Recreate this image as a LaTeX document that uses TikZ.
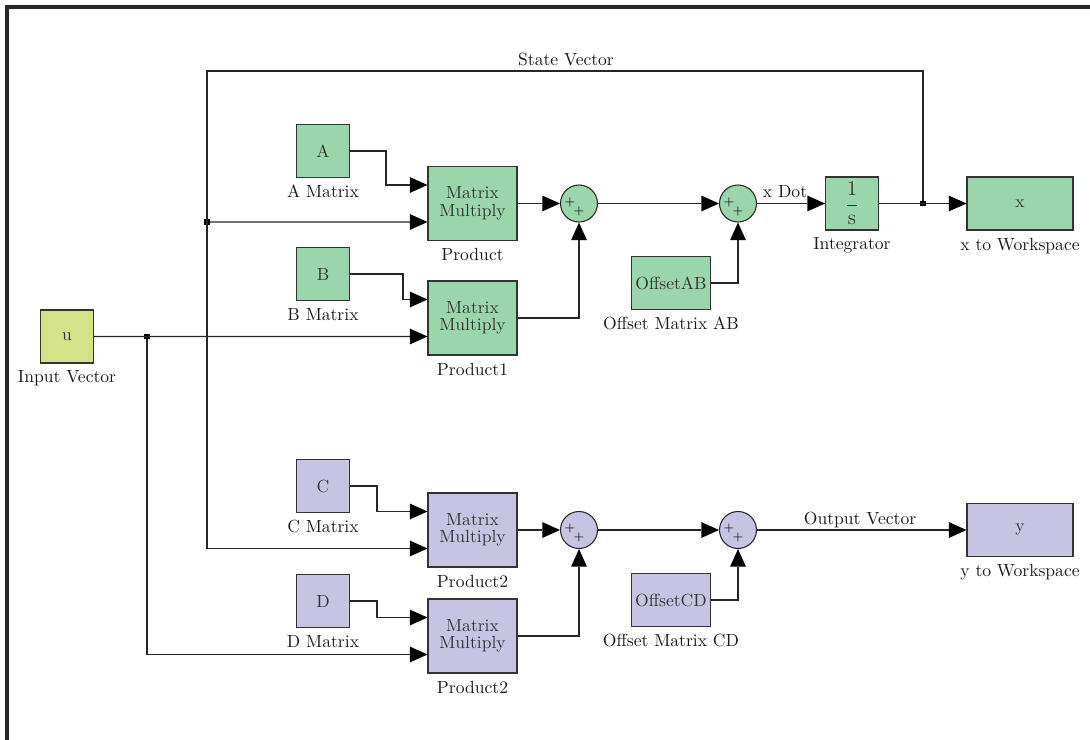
\documentclass[tikz,border=0pt]{standalone}
\usetikzlibrary{positioning,arrows.meta}

\definecolor{simgreen}{RGB}{155,213,172}
\definecolor{simblue}{RGB}{198,196,226}
\definecolor{simyellow}{RGB}{212,226,138}

\tikzset{
    block/.style={draw=black!80, line width=0.6pt, text=black!80, minimum width=1.06cm, minimum height=1.06cm, inner sep=1pt},
    mult/.style={block, minimum width=1.78cm, minimum height=1.48cm, align=center},
    wide/.style={block, minimum width=1.58cm},
    sink/.style={block, minimum width=2.12cm},
    sumnode/.style={circle, draw=black!85, line width=0.6pt, minimum size=0.74cm, inner sep=0pt},
    plus/.style={font=\scriptsize, inner sep=0pt},
    lbl/.style={text=black!90, inner sep=1pt},
    wire/.style={line width=0.6pt, black!85},
    sig/.style={wire, -{Triangle[length=10pt,width=9pt,fill=black,line width=0pt]}},
    dot/.style={fill=black, minimum size=3pt, inner sep=0pt}
}

\begin{document}
\begin{tikzpicture}
    \begin{scope}[x=0.02cm, y=-0.02cm]
        \useasboundingbox (0,0) rectangle (1090,740);

        % Frame
        \draw[line width=2pt, black!85] (7,741) -- (7,7) -- (1091,7);

        % --- Input ---
        \node[block, fill=simyellow] (u) at (67,336.5) {u};
        \node[lbl, below=3pt of u] (ulab) {Input Vector};

        % --- Upper half: state derivative ---
        \node[block, fill=simgreen] (A) at (323,151) {A};
        \node[lbl, below=3pt of A] (Alab) {A Matrix};
        \node[block, fill=simgreen] (B) at (323,274) {B};
        \node[lbl, below=3pt of B] (Blab) {B Matrix};

        \node[mult, fill=simgreen] (P) at (472.5,203.5) {Matrix\\[-2pt]Multiply};
        \node[lbl, below=3pt of P] (Plab) {Product};
        \node[mult, fill=simgreen] (P1) at (472.5,318) {Matrix\\[-2pt]Multiply};
        \node[lbl, below=3pt of P1] (P1lab) {Product1};

        \node[sumnode, fill=simgreen] (s1) at (579,203.5) {};
        \node[sumnode, fill=simgreen] (s2) at (738,203.5) {};

        \node[wide, fill=simgreen] (oab) at (671,283) {OffsetAB};
        \node[lbl, below=3pt of oab] (oablab) {Offset Matrix AB};

        \node[block, fill=simgreen, font=\large] (int) at (852,203.5) {$\displaystyle\frac{1}{\mathrm{s}}$};
        \node[lbl, below=3pt of int] (intlab) {Integrator};

        \node[sink, fill=simgreen] (xws) at (1020,203.5) {x};
        \node[lbl, below=3pt of xws] (xwslab) {x to Workspace};

        % --- Lower half: output ---
        \node[block, fill=simblue] (C) at (323,486) {C};
        \node[lbl, below=3pt of C] (Clab) {C Matrix};
        \node[block, fill=simblue] (D) at (323,601) {D};
        \node[lbl, below=3pt of D] (Dlab) {D Matrix};

        \node[mult, fill=simblue] (P2) at (472.5,530) {Matrix\\[-2pt]Multiply};
        \node[lbl, below=3pt of P2] (P2lab) {Product2};
        \node[mult, fill=simblue] (P3) at (472.5,636) {Matrix\\[-2pt]Multiply};
        \node[lbl, below=3pt of P3] (P3lab) {Product2};

        \node[sumnode, fill=simblue] (s3) at (579,530) {};
        \node[sumnode, fill=simblue] (s4) at (738,530) {};

        \node[wide, fill=simblue] (ocd) at (671,600) {OffsetCD};
        \node[lbl, below=3pt of ocd] (ocdlab) {Offset Matrix CD};

        \node[sink, fill=simblue] (yws) at (1020,530) {y};
        \node[lbl, below=3pt of yws] (ywslab) {y to Workspace};

        % Sum signs
        \foreach \s in {s1,s2,s3,s4} {
            \node[plus] (\s-pa) at ([shift={(-0.18cm,0.03cm)}]\s.center) {+};
            \node[plus] (\s-pb) at ([shift={(0cm,-0.15cm)}]\s.center) {+};
        }

        % Product input ports
        \foreach \p in {P,P1,P2,P3} {
            \coordinate (\p-a) at ([yshift=0.37cm]\p.west);
            \coordinate (\p-b) at ([yshift=-0.37cm]\p.west);
        }

        % Junctions
        \node[dot] (j1) at (147,336.5) {};
        \node[dot] (j2) at (207,222) {};
        \node[dot] (j3) at (923,203.5) {};
        \coordinate (tl) at (207,71);

        % --- Connectors, upper half ---
        \draw[sig] (A.east) -- ++(36,0) |- (P-a);
        \draw[sig] (j2) -- (P-b);
        \draw[sig] (B.east) -- ++(53,0) |- (P1-a);
        \draw[sig] (u.east) -- (P1-b);
        \draw[sig] (P.east) -- (s1.west);
        \draw[sig] (P1.east) -| (s1.south);
        \draw[sig] (s1.east) -- (s2.west);
        \draw[sig] (oab.east) -| (s2.south);
        \draw[sig] (s2.east) -- (int.west);
        \draw[sig] (int.east) -- (xws.west);

        % State feedback
        \draw[sig] (j3.north) |- (tl) |- (P2-b);
        \node[lbl] (svlab) at (566,60) {State Vector};
        \node[lbl] (xdlab) at (785,192) {x Dot};

        % --- Connectors, lower half ---
        \draw[sig] (C.east) -- ++(27,0) |- (P2-a);
        \draw[sig] (D.east) -- ++(27,0) |- (P3-a);
        \draw[sig] (j1) |- (P3-b);
        \draw[sig] (P2.east) -- (s3.west);
        \draw[sig] (P3.east) -| (s3.south);
        \draw[sig] (s3.east) -- (s4.west);
        \draw[sig] (ocd.east) -| (s4.south);
        \draw[sig] (s4.east) -- (yws.west);
        \node[lbl] (ovlab) at (860,520) {Output Vector};

    \end{scope}
\end{tikzpicture}
\end{document}
